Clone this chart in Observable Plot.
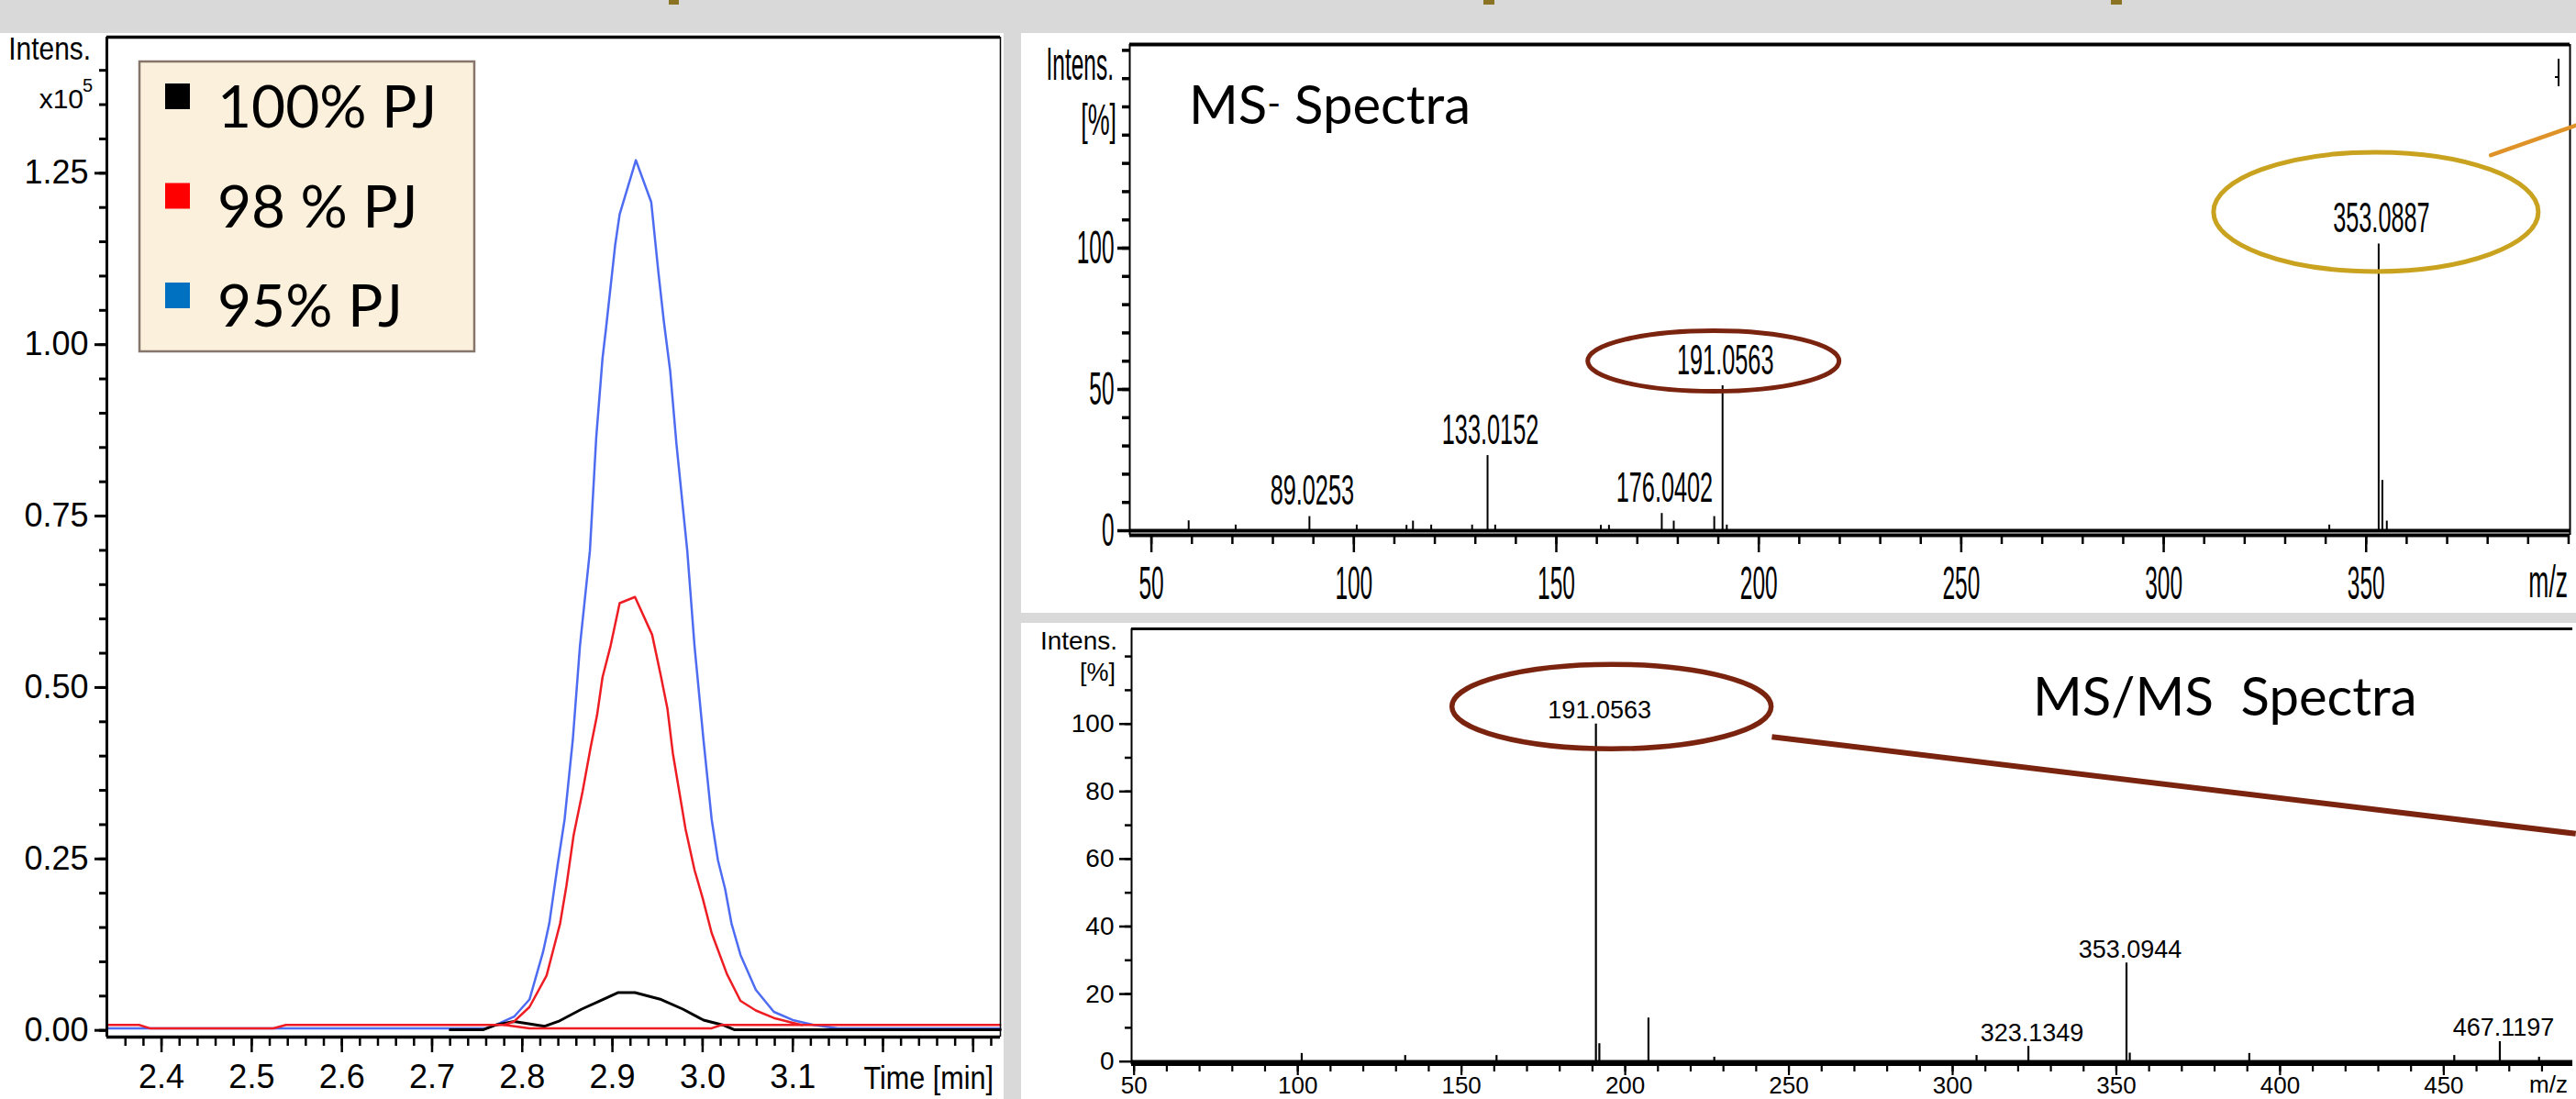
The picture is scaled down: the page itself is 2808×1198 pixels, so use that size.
<!DOCTYPE html>
<html>
<head>
<meta charset="utf-8">
<script src="https://cdn.jsdelivr.net/npm/d3@7"></script>
<script src="https://cdn.jsdelivr.net/npm/@observablehq/plot@0.6"></script>
<style>
  html, body { margin: 0; padding: 0; background: #d9d9d9; }
  #page { position: relative; width: 2808px; height: 1198px; overflow: hidden; background: #d9d9d9; }
  .panel { position: absolute; background: #ffffff; }
</style>
</head>
<body>
<div id="page"></div>
<script>
// ---------------- DATA ----------------
// Chromatogram (EIC), intensity in x10^5
const seriesNames  = ["100% PJ", "98 % PJ", "95% PJ"];
const legendColors = ["#000000", "#ff0000", "#0070c0"];
const lineColors   = ["#000000", "#ee1d23", "#4d6cf2"];

const blackT = [2.720, 2.757, 2.771, 2.791, 2.825, 2.840, 2.866, 2.886, 2.906, 2.925, 2.954, 2.978, 3.001, 3.022, 3.035, 3.330];
const blackI = [0.001, 0.001, 0.008, 0.013, 0.006, 0.013, 0.031, 0.043, 0.055, 0.055, 0.045, 0.031, 0.015, 0.008, 0.001, 0.001];

const redT = [2.340, 2.375, 2.387, 2.524, 2.538, 2.780, 2.791, 2.808, 2.827, 2.842, 2.849, 2.857, 2.867, 2.876, 2.883, 2.889, 2.898, 2.908, 2.925, 2.944, 2.954, 2.961, 2.967, 2.974, 2.981, 2.991, 3.000, 3.010, 3.027, 3.042, 3.059, 3.079, 3.100, 3.110, 3.330];
const redI = [0.008, 0.008, 0.003, 0.003, 0.008, 0.008, 0.013, 0.034, 0.080, 0.156, 0.211, 0.285, 0.349, 0.414, 0.460, 0.515, 0.561, 0.623, 0.632, 0.577, 0.515, 0.469, 0.404, 0.349, 0.294, 0.234, 0.193, 0.142, 0.082, 0.043, 0.029, 0.018, 0.011, 0.008, 0.008];
const redBaseT = [2.780, 2.808, 3.010, 3.021, 3.110];
const redBaseI = [0.008, 0.003, 0.003, 0.008, 0.008];

const blueT = [2.340, 2.760, 2.771, 2.791, 2.808, 2.823, 2.830, 2.839, 2.847, 2.856, 2.864, 2.875, 2.882, 2.889, 2.893, 2.903, 2.908, 2.926, 2.943, 2.951, 2.957, 2.964, 2.971, 2.983, 2.991, 3.001, 3.010, 3.017, 3.025, 3.032, 3.042, 3.059, 3.079, 3.100, 3.123, 3.150, 3.330];
const blueI = [0.003, 0.003, 0.008, 0.020, 0.045, 0.114, 0.156, 0.239, 0.308, 0.423, 0.561, 0.699, 0.864, 0.980, 1.025, 1.145, 1.190, 1.269, 1.208, 1.105, 1.034, 0.962, 0.855, 0.699, 0.561, 0.423, 0.308, 0.248, 0.206, 0.156, 0.110, 0.059, 0.027, 0.015, 0.008, 0.003, 0.003];

const chromXTicks = [2.4, 2.5, 2.6, 2.7, 2.8, 2.9, 3.0, 3.1];
const chromXTicksBare = [3.2, 3.3];
const chromYTicks = [0, 0.25, 0.5, 0.75, 1.0, 1.25];

// MS- spectrum (relative intensity, %)
const msMz  = [59.2, 70.8, 89.0253, 100.7, 113.0, 114.6, 119.1, 129.2, 133.0152, 134.9, 161.0, 163.0, 176.0402, 179.0, 189.0, 191.0563, 192.1, 340.9, 353.0887, 354.0, 355.1];
const msPct = [3.5, 2.0, 5.0, 2.0, 1.9, 3.4, 2.0, 2.0, 26.6, 2.0, 1.9, 1.9, 6.1, 3.4, 5.0, 51.3, 2.0, 2.0, 101.5, 17.8, 3.4];
const msLabelled = [89.0253, 133.0152, 176.0402, 191.0563, 353.0887];
const msXTicks = [50, 100, 150, 200, 250, 300, 350];
const msYTicks = [0, 50, 100];

// MS/MS spectrum (relative intensity, %)
const msmsMz  = [101.2, 132.8, 160.7, 191.0563, 192.1, 207.1, 227.2, 307.3, 323.1349, 353.0944, 354.1, 390.6, 453.2, 467.1197, 479.1];
const msmsPct = [2.4, 1.8, 1.8, 100, 5.3, 12.9, 1.3, 1.8, 4.5, 29.2, 2.5, 2.4, 1.8, 5.9, 1.3];
const msmsLabelled = [191.0563, 323.1349, 353.0944, 467.1197];
const msmsXTicks = [50, 100, 150, 200, 250, 300, 350, 400, 450];
const msmsYTicks = [0, 20, 40, 60, 80, 100];

// annotation connectors (data units of each spectrum)
const msConnector   = [{x1: 380.8, y1: 132.9, x2: 401.9, y2: 143.5}];
const msmsConnector = [{x1: 244.8, y1: 96.2, x2: 490.3, y2: 67.5}];

// ---------------- HELPERS ----------------
const page = document.getElementById("page");
function panel(x, y, w, h) {
  const d = document.createElement("div");
  d.className = "panel";
  Object.assign(d.style, {left: x + "px", top: y + "px", width: w + "px", height: h + "px"});
  page.appendChild(d);
}
function mount(node, x, y) {
  node.style.position = "absolute";
  node.style.left = x + "px";
  node.style.top = y + "px";
  page.appendChild(node);
}
function squeeze(svg, kAxis, kText) {
  svg.querySelectorAll("text").forEach(t => {
    const g = t.closest("g[aria-label]");
    const isPeak = g && g.getAttribute("aria-label") === "text";
    const k = isPeak ? kText : kAxis;
    t.setAttribute("transform", (t.getAttribute("transform") || "") + ` scale(${k},1)`);
  });
}
function ellipseSymbol(rx, ry) {
  const c = 0.5523;
  return {
    draw(ctx) {
      ctx.moveTo(rx, 0);
      ctx.bezierCurveTo(rx, ry * c, rx * c, ry, 0, ry);
      ctx.bezierCurveTo(-rx * c, ry, -rx, ry * c, -rx, 0);
      ctx.bezierCurveTo(-rx, -ry * c, -rx * c, -ry, 0, -ry);
      ctx.bezierCurveTo(rx * c, -ry, rx, -ry * c, rx, 0);
      ctx.closePath();
    }
  };
}
const rows = (xs, ys) => xs.map((x, i) => ({x, y: ys[i]}));

// ---------------- PANELS ----------------
panel(0, 36, 1094, 1162);
panel(1113, 36, 1695, 632);
panel(1113, 679, 1695, 519);

// ---------------- CHROMATOGRAM ----------------
const cxDom = [2.3394, 3.3302], cyDom = [-0.0098, 1.4484];
const chrom = Plot.plot({
  width: 1094, height: 1162,
  marginLeft: 116, marginTop: 4, marginRight: 4, marginBottom: 68,
  x: {domain: cxDom, label: null},
  y: {domain: cyDom, label: null},
  style: {fontFamily: "'Liberation Sans Narrow', 'Arial Narrow', sans-serif", fontSize: "36px", color: "#000", background: "transparent", overflow: "visible"},
  marks: [
    Plot.line(rows(blueT, blueI), {x: "x", y: "y", stroke: lineColors[2], strokeWidth: 2.5}),
    Plot.line(rows(blackT, blackI), {x: "x", y: "y", stroke: lineColors[0], strokeWidth: 3}),
    Plot.line(rows(redBaseT, redBaseI), {x: "x", y: "y", stroke: lineColors[1], strokeWidth: 2.5}),
    Plot.line(rows(redT, redI), {x: "x", y: "y", stroke: lineColors[1], strokeWidth: 2.5}),
    Plot.ruleY([cyDom[0]], {stroke: "#000", strokeWidth: 3.5}),
    Plot.ruleY([cyDom[1]], {stroke: "#000", strokeWidth: 3.5}),
    Plot.ruleX([cxDom[0]], {stroke: "#000", strokeWidth: 3}),
    Plot.ruleX([cxDom[1]], {stroke: "#000", strokeWidth: 1.5}),
    Plot.axisY({ticks: chromYTicks, tickSize: 13, tickPadding: 7, tickFormat: d => d.toFixed(2), strokeWidth: 3, label: null}),
    Plot.axisY({ticks: d3.range(0, 29).map(i => i * 0.05), tickSize: 8, fill: "none", strokeWidth: 3, label: null}),
    Plot.axisX({ticks: chromXTicks, tickSize: 17, tickPadding: 13, tickFormat: d => d.toFixed(1), strokeWidth: 2.5, label: null}),
    Plot.axisX({ticks: chromXTicksBare, tickSize: 17, fill: "none", strokeWidth: 2.5, label: null}),
    Plot.axisX({ticks: d3.range(118, 167).map(i => i * 0.02), tickSize: 10, fill: "none", strokeWidth: 2.5, label: null})
  ]
});
mount(chrom, 0, 36);

// ---------------- MS- SPECTRUM ----------------
const ms = msMz.map((mz, i) => ({mz, pct: msPct[i]}));
const msLab = ms.filter(d => msLabelled.includes(d.mz));
const mxDom = [44.65, 400.35], myDom = [-1.62, 172.08];
const msPlot = Plot.plot({
  width: 1695, height: 632,
  marginLeft: 118, marginTop: 12, marginRight: 7, marginBottom: 85,
  x: {domain: mxDom, label: null},
  y: {domain: myDom, label: null},
  style: {fontFamily: "'Liberation Sans', Arial, sans-serif", fontSize: "50px", color: "#000", background: "transparent", overflow: "visible"},
  marks: [
    Plot.ruleX(ms, {x: "mz", y1: 0, y2: "pct", stroke: "#000", strokeWidth: 2}),
    Plot.ruleY([0], {stroke: "#000", strokeWidth: 4}),
    Plot.ruleY([myDom[0]], {stroke: "#000", strokeWidth: 4}),
    Plot.ruleY([myDom[1]], {stroke: "#000", strokeWidth: 4}),
    Plot.ruleX([mxDom[0]], {stroke: "#000", strokeWidth: 2}),
    Plot.ruleX([mxDom[1]], {stroke: "#000", strokeWidth: 2}),
    Plot.axisX({ticks: msXTicks, tickSize: 19, tickPadding: 15, strokeWidth: 2.5, label: null}),
    Plot.axisX({ticks: d3.range(5, 41).map(i => i * 10), tickSize: 10, fill: "none", strokeWidth: 2.5, label: null}),
    Plot.axisY({ticks: msYTicks, tickSize: 13, tickPadding: 4, strokeWidth: 3.5, label: null}),
    Plot.axisY({ticks: d3.range(1, 18).map(i => i * 10), tickSize: 8, fill: "none", strokeWidth: 3.5, label: null}),
    Plot.text(msLab, {x: "mz", y: "pct", text: d => d.mz.toFixed(4), lineAnchor: "bottom", dy: -13, dx: 3, fontSize: 46}),
    Plot.dot(msLab.filter(d => d.mz === 353.0887), {x: "mz", y: "pct", dx: -3, dy: -35, symbol: ellipseSymbol(177, 65), fill: "none", stroke: "#c9a21f", strokeWidth: 5}),
    Plot.dot(msLab.filter(d => d.mz === 191.0563), {x: "mz", y: "pct", dx: -10, dy: -27, symbol: ellipseSymbol(137, 33), fill: "none", stroke: "#7a2410", strokeWidth: 5}),
    Plot.link(msConnector, {x1: "x1", y1: "y1", x2: "x2", y2: "y2", stroke: "#de9227", strokeWidth: 4.5, strokeLinecap: "round"})
  ]
});
squeeze(msPlot, 0.49, 0.55);
mount(msPlot, 1113, 36);

// ---------------- MS/MS SPECTRUM ----------------
const msms = msmsMz.map((mz, i) => ({mz, pct: msmsPct[i]}));
const msmsLab = msms.filter(d => msmsLabelled.includes(d.mz));
const nxDom = [49.24, 489.4], nyDom = [-0.9, 128.18];
const msmsPlot = Plot.plot({
  width: 1695, height: 519,
  marginLeft: 120, marginTop: 6, marginRight: 4, marginBottom: 38,
  x: {domain: nxDom, label: null},
  y: {domain: nyDom, label: null},
  style: {fontFamily: "'Liberation Sans', Arial, sans-serif", fontSize: "28px", color: "#000", background: "transparent", overflow: "visible"},
  marks: [
    Plot.ruleX(msms, {x: "mz", y1: 0, y2: "pct", stroke: "#000", strokeWidth: 2.2}),
    Plot.ruleY([0], {stroke: "#000", strokeWidth: 3.5}),
    Plot.ruleY([nyDom[0]], {stroke: "#000", strokeWidth: 3}),
    Plot.ruleY([nyDom[1]], {stroke: "#000", strokeWidth: 3}),
    Plot.ruleX([nxDom[0]], {stroke: "#000", strokeWidth: 2}),
    Plot.axisX({ticks: msmsXTicks, tickSize: 12, tickPadding: 1, fontSize: 26, strokeWidth: 2.2, label: null}),
    Plot.axisX({ticks: d3.range(5, 49).map(i => i * 10), tickSize: 8, fill: "none", strokeWidth: 2.2, label: null}),
    Plot.axisY({ticks: msmsYTicks, tickSize: 13, tickPadding: 6, strokeWidth: 2.5, label: null}),
    Plot.axisY({ticks: d3.range(1, 13).map(i => i * 10), tickSize: 7, fill: "none", strokeWidth: 2.5, label: null}),
    Plot.text(msmsLab, {x: "mz", y: "pct", text: d => d.mz.toFixed(4), lineAnchor: "bottom", dy: -6, dx: 4, fontSize: 27}),
    Plot.dot(msmsLab.filter(d => d.mz === 191.0563), {x: "mz", y: "pct", dx: 17, dy: -19, symbol: ellipseSymbol(174, 46), fill: "none", stroke: "#7a2410", strokeWidth: 5.5}),
    Plot.link(msmsConnector, {x1: "x1", y1: "y1", x2: "x2", y2: "y2", stroke: "#7a2410", strokeWidth: 6})
  ]
});
mount(msmsPlot, 1113, 679);

// ---------------- OVERLAY TEXT / LEGEND ----------------
const ov = d3.select(page).append("svg")
  .attr("width", 2808).attr("height", 1198)
  .style("position", "absolute").style("left", "0px").style("top", "0px")
  .style("pointer-events", "none");

// header band fragments (descenders of a cropped title)
[[729, 11], [1617, 12], [2301, 12]].forEach(([x, w]) =>
  ov.append("rect").attr("x", x).attr("y", 0).attr("width", w).attr("height", 5).attr("fill", "#8a7323"));

// small precursor marker at the top right of the MS- panel
ov.append("path").attr("d", "M2789,64V94M2789,84H2785").attr("stroke", "#000").attr("stroke-width", 2).attr("fill", "none");

function label(txt, x, y, {font = "Liberation Sans", size = 28, anchor = "start", k = 1, weight = 400} = {}) {
  return ov.append("text")
    .attr("transform", `translate(${x},${y}) scale(${k},1)`)
    .attr("text-anchor", anchor)
    .attr("font-family", font)
    .attr("font-size", size)
    .attr("font-weight", weight)
    .style("white-space", "pre")
    .text(txt);
}
const NARROW = "'Liberation Sans Narrow', 'Arial Narrow', sans-serif";
const GOTHIC = "Lato, 'Open Sans', sans-serif";

// chromatogram axis titles
label("Intens.", 99, 65, {font: NARROW, size: 36, anchor: "end", k: 0.83});
label("x10", 91, 118, {font: NARROW, size: 30, anchor: "end"});
label("5", 101, 100, {font: NARROW, size: 20, anchor: "end"});
label("Time [min]", 1083, 1187, {font: NARROW, size: 36, anchor: "end", k: 0.85});

// legend
ov.append("rect").attr("x", 152).attr("y", 67).attr("width", 365).attr("height", 316)
  .attr("fill", "#faf0dc").attr("stroke", "#85756a").attr("stroke-width", 2.5);
seriesNames.forEach((name, i) => {
  const cy = 91 + i * 108.5;
  ov.append("rect").attr("x", 180).attr("y", cy).attr("width", 27).attr("height", 28).attr("fill", legendColors[i]);
  label(name, 237, cy + 48, {font: GOTHIC, size: 64});
});

// MS- panel titles
label("Intens.", 1214, 87, {size: 50, anchor: "end", k: 0.49});
label("[%]", 1217, 147, {size: 48, anchor: "end", k: 0.56});
label("m/z", 2799, 651, {size: 50, anchor: "end", k: 0.53});
const t1 = ov.append("text").attr("x", 1296).attr("y", 135)
  .attr("font-family", GOTHIC).attr("font-size", 58);
t1.append("tspan").text("MS");
t1.append("tspan").attr("font-size", 40).attr("dy", -8).text("-");
t1.append("tspan").attr("dy", 8).text(" Spectra");

// MS/MS panel titles
label("Intens.", 1218, 708, {size: 28, anchor: "end"});
label("[%]", 1216, 742, {size: 27, anchor: "end"});
label("m/z", 2799, 1191, {size: 26, anchor: "end"});
label("MS/MS  Spectra", 2216, 780, {font: GOTHIC, size: 58});
</script>
</body>
</html>
